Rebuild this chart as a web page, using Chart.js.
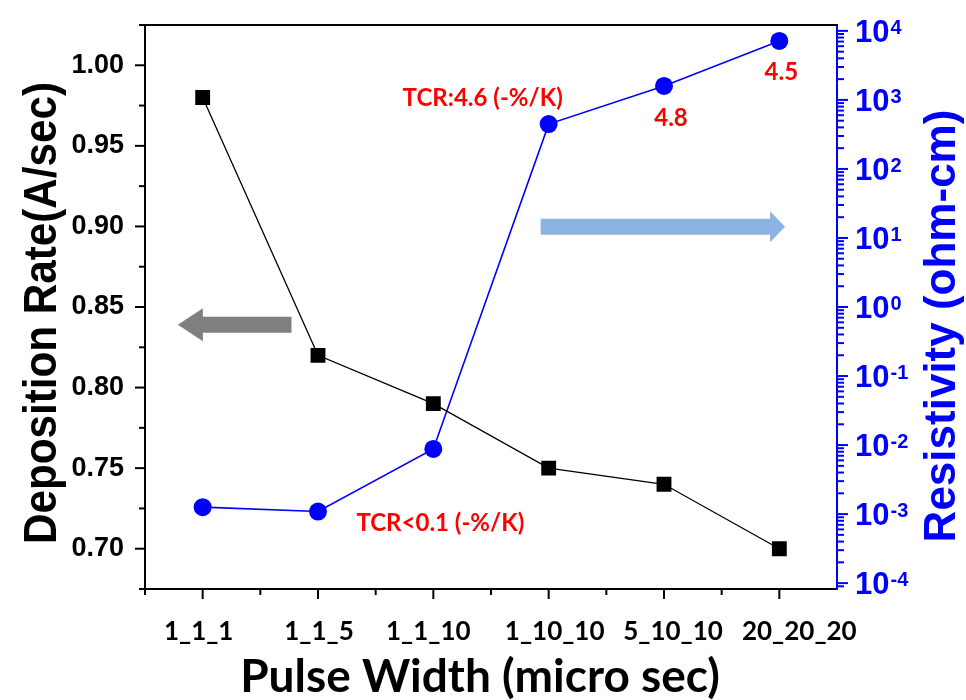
<!DOCTYPE html>
<html>
<head>
<meta charset="utf-8">
<script src="https://cdn.jsdelivr.net/npm/chart.js@4.4.0/dist/chart.umd.min.js"></script>
<style>
  html, body { margin: 0; padding: 0; background: #ffffff; }
  #wrap { width: 966px; height: 700px; }
</style>
</head>
<body>
<div id="wrap"><canvas id="chart" width="966" height="700"></canvas></div>
<script>
// Pulse-width settings (on_off_period, micro sec)
const categories = ['1_1_1', '1_1_5', '1_1_10', '1_10_10', '5_10_10', '20_20_20'];
// Deposition rate, A/sec (left axis)
const depositionRate = [0.98, 0.82, 0.79, 0.75, 0.74, 0.70];
// Resistivity, ohm-cm (right axis, log scale)
const resistivity = [1.26e-3, 1.09e-3, 8.8e-3, 446, 1596, 7160];
// Left axis labelled ticks
const rateTicks = [0.70, 0.75, 0.80, 0.85, 0.90, 0.95, 1.00];
// Right axis decades (10^n)
const decadeExponents = [-4, -3, -2, -1, 0, 1, 2, 3, 4];
// TCR notes attached to the resistivity points
const tcrPointIndex = [2, 3, 4, 5];
const tcrText = ['TCR<0.1 (-%/K)', 'TCR:4.6 (-%/K)', '4.8', '4.5'];

const BLUE = '#0000ff';
const RED = '#ff0000';
const SANS = '"Liberation Sans", Arial, sans-serif';
const HUMANIST = 'Lato, "Open Sans", sans-serif';

function line(ctx, x1, y1, x2, y2, color, w) {
  ctx.strokeStyle = color;
  ctx.lineWidth = w || 2;
  ctx.beginPath();
  ctx.moveTo(x1, y1);
  ctx.lineTo(x2, y2);
  ctx.stroke();
}

// Block arrow: tail at (x0,y), tip at (x1,y)
function blockArrow(ctx, x0, x1, y, shaftH, headH, headL, color) {
  const dir = x1 > x0 ? 1 : -1;
  const xb = x1 - dir * headL;
  ctx.fillStyle = color;
  ctx.beginPath();
  ctx.moveTo(x0, y - shaftH / 2);
  ctx.lineTo(xb, y - shaftH / 2);
  ctx.lineTo(xb, y - headH / 2);
  ctx.lineTo(x1, y);
  ctx.lineTo(xb, y + headH / 2);
  ctx.lineTo(xb, y + shaftH / 2);
  ctx.lineTo(x0, y + shaftH / 2);
  ctx.closePath();
  ctx.fill();
}

// keep the plot frame exactly where the axes put it
function noEdgePadding(s) {
  s.paddingTop = 0; s.paddingBottom = 0; s.paddingLeft = 0; s.paddingRight = 0;
}

const decorations = {
  id: 'decorations',
  beforeDatasetsDraw(chart) {
    const { ctx, scales } = chart;
    const sx = scales.x, sy = scales.y, sr = scales.y1;
    ctx.save();
    // arrow pointing to the deposition-rate axis
    blockArrow(ctx, sx.getPixelForValue(0.77), sx.getPixelForValue(-0.215),
      sy.getPixelForValue(0.839), 16, 33, 25, '#7f7f7f');
    // arrow pointing to the resistivity axis
    blockArrow(ctx, sx.getPixelForValue(2.93), sx.getPixelForValue(5.05),
      sr.getPixelForValue(14.5), 16, 31, 15, '#8db3e2');
    ctx.restore();
  },
  afterDraw(chart) {
    const { ctx, chartArea: a, scales } = chart;
    const sx = scales.x, sy = scales.y, sr = scales.y1;
    ctx.save();

    // top frame line
    line(ctx, a.left - 1, a.top, a.right + 1, a.top, '#000', 2);

    // x ticks: major on categories, minor between
    for (let i = 0; i < categories.length; i++) {
      const xm = sx.getPixelForValue(i);
      line(ctx, xm, a.bottom, xm, a.bottom + 10, '#000', 2);
      const xn = sx.getPixelForValue(i - 0.5);
      line(ctx, xn, a.bottom, xn, a.bottom + 6, '#000', 2);
    }

    // x category labels (hand-placed text boxes sit a little off the ticks)
    const labelShift = [-4, 1, -5, 6, 9, 20];
    ctx.fillStyle = '#000';
    ctx.textAlign = 'center';
    ctx.textBaseline = 'middle';
    ctx.font = 'bold 26px ' + HUMANIST;
    categories.forEach((c, i) => {
      ctx.fillText(c, sx.getPixelForValue(i) + labelShift[i], a.bottom + 43);
    });

    // left ticks
    for (let i = 0; i <= 14; i++) {
      const v = 0.675 + 0.025 * i;
      const y = sy.getPixelForValue(v);
      const len = (i % 2 === 1) ? 10 : 6;
      line(ctx, a.left, y, a.left - len, y, '#000', 2);
    }

    // right ticks (log decades + 2..9 minors)
    for (let k = -5; k <= 4; k++) {
      for (let m = 1; m <= 9; m++) {
        const v = m * Math.pow(10, k);
        if (v < sr.min || v > sr.max) continue;
        const y = sr.getPixelForValue(v);
        const len = m === 1 ? 11 : 7;
        line(ctx, a.right, y, a.right + len, y, BLUE, 2);
      }
    }

    // right tick labels 10^n
    ctx.fillStyle = BLUE;
    ctx.textAlign = 'left';
    ctx.textBaseline = 'alphabetic';
    decadeExponents.forEach(n => {
      const y = sr.getPixelForValue(Math.pow(10, n));
      const x = a.right + 18;
      ctx.font = 'bold 31px ' + SANS;
      ctx.fillText('10', x, y + 11);
      const w = ctx.measureText('10').width;
      ctx.font = 'bold 20px ' + SANS;
      ctx.fillText(String(n), x + w + 1, y + 3);
    });

    // axis titles
    ctx.fillStyle = '#000';
    ctx.textAlign = 'center';
    ctx.save();
    ctx.translate(56, 313);
    ctx.rotate(-Math.PI / 2);
    ctx.font = 'bold 46px ' + SANS;
    ctx.fillText('Deposition Rate(A/sec)', 0, 0, 462);
    ctx.restore();

    ctx.save();
    ctx.fillStyle = BLUE;
    ctx.translate(955, 326);
    ctx.rotate(-Math.PI / 2);
    ctx.font = 'bold 44px ' + SANS;
    ctx.fillText('Resistivity (ohm-cm)', 0, 0, 434);
    ctx.restore();

    ctx.fillStyle = '#000';
    ctx.font = 'bold 46px ' + HUMANIST;
    ctx.fillText('Pulse Width (micro sec)', 480, 692, 502);

    // TCR notes beside the resistivity points
    const offsets = [[7, 74], [-66, -26], [7, 32], [2, 31]];
    ctx.fillStyle = RED;
    ctx.textBaseline = 'middle';
    ctx.font = 'bold 24px ' + HUMANIST;
    tcrPointIndex.forEach((idx, j) => {
      const px = sx.getPixelForValue(idx);
      const py = sr.getPixelForValue(resistivity[idx]);
      ctx.fillText(tcrText[j], px + offsets[j][0], py + offsets[j][1]);
    });
    ctx.restore();
  }
};

new Chart(document.getElementById('chart'), {
  type: 'line',
  data: {
    labels: categories,
    datasets: [
      {
        label: 'Deposition Rate',
        data: depositionRate,
        yAxisID: 'y',
        borderColor: '#000000',
        borderWidth: 1.3,
        pointStyle: 'rect',
        pointRadius: 10.5,
        pointBackgroundColor: '#000000',
        pointBorderWidth: 0,
        tension: 0
      },
      {
        label: 'Resistivity',
        data: resistivity,
        yAxisID: 'y1',
        borderColor: BLUE,
        borderWidth: 1.6,
        pointStyle: 'circle',
        pointRadius: 9,
        pointBackgroundColor: BLUE,
        pointBorderWidth: 0,
        tension: 0
      }
    ]
  },
  options: {
    responsive: false,
    animation: false,
    devicePixelRatio: 1,
    layout: { padding: { top: 25, left: 0, right: 0, bottom: 0 } },
    plugins: { legend: { display: false }, tooltip: { enabled: false } },
    scales: {
      x: {
        type: 'category',
        offset: true,
        grid: { display: false, drawTicks: false },
        border: { display: true, color: '#000000', width: 2 },
        ticks: { display: false },
        afterFit(s) { s.height = 111; noEdgePadding(s); }
      },
      y: {
        position: 'left',
        min: 0.675,
        max: 1.025,
        afterBuildTicks(s) { s.ticks = rateTicks.map(v => ({ value: v })); },
        grid: { display: false, drawTicks: false },
        border: { display: true, color: '#000000', width: 2 },
        ticks: {
          color: '#000000',
          font: { family: SANS, weight: 'bold', size: 27 },
          padding: 21,
          callback: v => Number(v).toFixed(2)
        },
        afterFit(s) { s.width = 145; noEdgePadding(s); }
      },
      y1: {
        type: 'logarithmic',
        position: 'right',
        min: Math.pow(10, -4.085),
        max: Math.pow(10, 4.085),
        grid: { display: false, drawTicks: false },
        border: { display: true, color: BLUE, width: 2 },
        ticks: { display: false },
        afterFit(s) { s.width = 129; noEdgePadding(s); }
      }
    }
  },
  plugins: [decorations]
});
</script>
</body>
</html>
